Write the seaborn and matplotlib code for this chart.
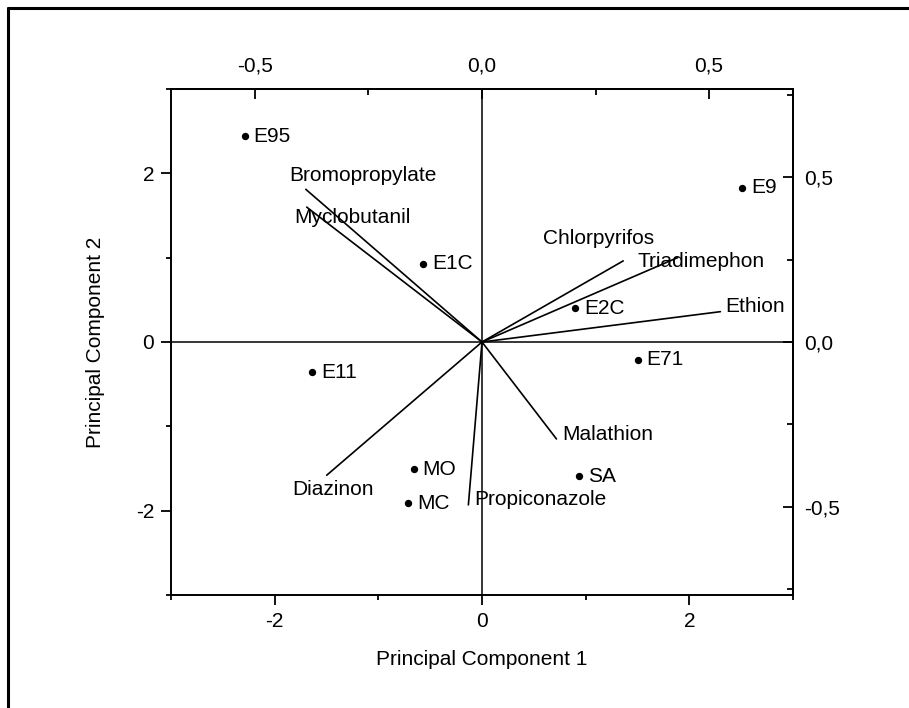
import matplotlib
matplotlib.use("Agg")
import matplotlib.pyplot as plt
from matplotlib.lines import Line2D
from matplotlib.ticker import MultipleLocator, FuncFormatter
import pandas as pd
import seaborn as sns

# sample scores (PC1, PC2)
samples = ["E95", "E9", "E1C", "E2C", "E71", "E11", "MO", "MC", "SA"]
pc1_scores = [-2.29, 2.51, -0.57, 0.90, 1.50, -1.64, -0.66, -0.71, 0.94]
pc2_scores = [2.44, 1.83, 0.93, 0.40, -0.21, -0.36, -1.51, -1.91, -1.59]

# variable loadings (top / right axes)
variables = ["Bromopropylate", "Myclobutanil", "Chlorpyrifos", "Triadimephon",
             "Ethion", "Malathion", "Propiconazole", "Diazinon"]
pc1_loadings = [-0.388, -0.386, 0.311, 0.431, 0.525, 0.164, -0.030, -0.342]
pc2_loadings = [0.463, 0.409, 0.246, 0.256, 0.092, -0.294, -0.494, -0.404]

# ratio between score axes and loading axes
sx = 4.38
sy = 3.91

sns.set_theme(style="ticks")
plt.rcParams['font.family'] = ['Liberation Sans', 'DejaVu Sans']
plt.rcParams['axes.linewidth'] = 1.4
plt.rcParams['axes.unicode_minus'] = False
for key in ['text.color', 'axes.labelcolor', 'xtick.color', 'ytick.color', 'axes.edgecolor']:
    plt.rcParams[key] = 'black'

fig = plt.figure(figsize=(9.09, 7.08), dpi=100)
ax = fig.add_axes([0.1881, 0.1596, 0.6843, 0.7147])

scores = pd.DataFrame({"pc1": pc1_scores, "pc2": pc2_scores, "name": samples})

# loadings as line segments from the origin
rows = []
for v, lx, ly in zip(variables, pc1_loadings, pc2_loadings):
    rows.append({"var": v, "x": 0.0, "y": 0.0, "step": 0})
    rows.append({"var": v, "x": lx * sx, "y": ly * sy, "step": 1})
segs = pd.DataFrame(rows)

ax.axhline(0, color="black", lw=1.1, zorder=1)
ax.axvline(0, color="black", lw=1.1, zorder=1)

sns.lineplot(data=segs, x="x", y="y", units="var", estimator=None, sort=False,
             color="black", lw=1.2, ax=ax, legend=False)
sns.scatterplot(data=scores, x="pc1", y="pc2", color="black", s=28,
                edgecolor="black", linewidth=0, ax=ax, zorder=3)

for name, x, y in zip(samples, pc1_scores, pc2_scores):
    ax.annotate(name, (x, y), xytext=(9, 0), textcoords="offset pixels",
                ha="left", va="center", fontsize=15)

# label offsets in pixels (dx, dy) from the line end
label_offsets = {
    "Bromopropylate": (-17, 14),
    "Myclobutanil": (-12, -10),
    "Chlorpyrifos": (-80, 22),
    "Triadimephon": (-40, -4),
    "Ethion": (5, 5),
    "Malathion": (6, 4),
    "Propiconazole": (6, 5),
    "Diazinon": (-34, -14),
}
for v, lx, ly in zip(variables, pc1_loadings, pc2_loadings):
    dx, dy = label_offsets[v]
    ax.annotate(v, (lx * sx, ly * sy), xytext=(dx, dy), textcoords="offset pixels",
                ha="left", va="center", fontsize=15)

ax.set_xlim(-3, 3)
ax.set_ylim(-3, 3)
ax.xaxis.set_major_locator(MultipleLocator(2))
ax.xaxis.set_minor_locator(MultipleLocator(1))
ax.yaxis.set_major_locator(MultipleLocator(2))
ax.yaxis.set_minor_locator(MultipleLocator(1))
ax.tick_params(which="major", direction="out", length=7, width=1.3,
               labelsize=15, pad=5, colors="black")
ax.tick_params(which="minor", direction="out", length=3.5, width=1.3)
ax.set_xlabel("Principal Component 1", fontsize=15, labelpad=14)
ax.set_ylabel("Principal Component 2", fontsize=15, labelpad=22)

comma = FuncFormatter(lambda v, p: f"{v:.1f}".replace(".", ",").replace("-0,0", "0,0"))

top = ax.secondary_xaxis("top", functions=(lambda x: x / sx, lambda x: x * sx))
top.xaxis.set_major_locator(MultipleLocator(0.5))
top.xaxis.set_minor_locator(MultipleLocator(0.25))
top.xaxis.set_major_formatter(comma)
top.tick_params(which="major", direction="in", length=7, width=1.3, labelsize=15, pad=10)
top.tick_params(which="minor", direction="in", length=4, width=1.3)

right = ax.secondary_yaxis("right", functions=(lambda y: y / sy, lambda y: y * sy))
right.yaxis.set_major_locator(MultipleLocator(0.5))
right.yaxis.set_minor_locator(MultipleLocator(0.25))
right.yaxis.set_major_formatter(comma)
right.tick_params(which="major", direction="in", length=7, width=1.3, labelsize=15, pad=8)
right.tick_params(which="minor", direction="in", length=4, width=1.3)

# outer frame, only left and top edges visible
fig.add_artist(Line2D([8 / 909, 8 / 909], [0, 1 - 8 / 708], color="black", lw=2.2,
                      transform=fig.transFigure))
fig.add_artist(Line2D([8 / 909, 1], [1 - 8 / 708, 1 - 8 / 708], color="black", lw=2.2,
                      transform=fig.transFigure))

fig.savefig("out.png", dpi=100, facecolor="white")
